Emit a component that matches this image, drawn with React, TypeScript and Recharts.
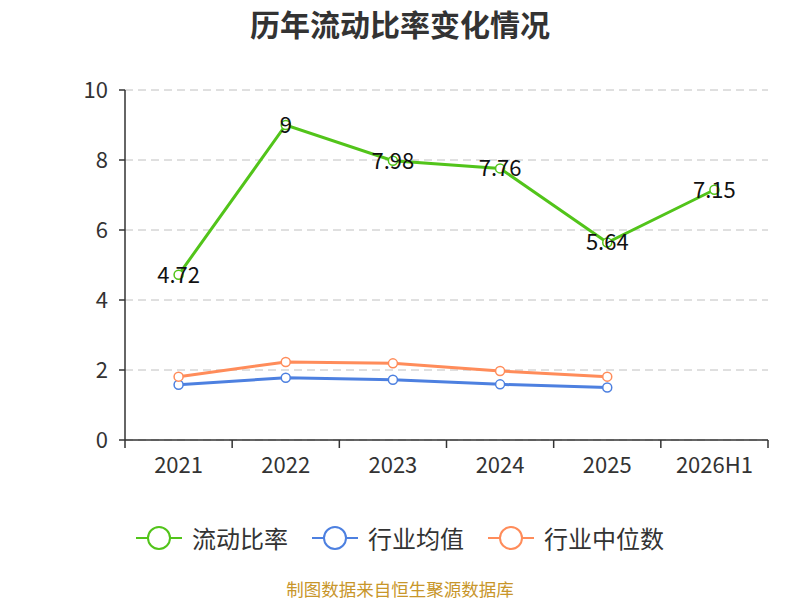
import { useEffect } from "react";
import { LineChart, Line, XAxis, YAxis, CartesianGrid, LabelList } from "recharts";

const years = ["2021", "2022", "2023", "2024", "2025", "2026H1"];
const currentRatio = [4.72, 9, 7.98, 7.76, 5.64, 7.15];
const industryAvg = [1.58, 1.78, 1.72, 1.59, 1.5, null];
const industryMedian = [1.81, 2.23, 2.19, 1.97, 1.81, null];
const yTicks = [0, 2, 4, 6, 8, 10];

const W = 800;
const H = 600;
const M = { top: 90, right: 32, left: 65, bottom: 130 };
const Y_AXIS_W = 60;
const BAND = (W - M.left - M.right - Y_AXIS_W) / years.length;

const data = years.map((year, i) => ({
  year,
  ratio: currentRatio[i],
  avg: industryAvg[i],
  median: industryMedian[i],
}));

const series = [
  { key: "ratio", name: "流动比率", color: "#52c41a" },
  { key: "avg", name: "行业均值", color: "#4d80e0" },
  { key: "median", name: "行业中位数", color: "#ff8c5a" },
];

const XTick = (props: any) => {
  const { x, y, payload, index } = props;
  const half = BAND / 2;
  return (
    <g>
      <line x1={x - half} y1={y - 8} x2={x - half} y2={y} stroke="#333" strokeWidth={1.5} />
      {index === years.length - 1 && (
        <line x1={x + half} y1={y - 8} x2={x + half} y2={y} stroke="#333" strokeWidth={1.5} />
      )}
      <text x={x} y={y + 25} textAnchor="middle" fontSize={22} fill="#333">
        {payload.value}
      </text>
    </g>
  );
};

export default function App() {
  useEffect(() => {
    document.body.style.margin = "0";
  }, []);

  return (
    <div style={{ position: "relative", width: W, height: H, fontFamily: "'Noto Sans CJK SC', 'Noto Sans', sans-serif", background: "#fff" }}>
      <div style={{ position: "absolute", top: 1, width: W, textAlign: "center", fontSize: 30, fontWeight: "bold", color: "#333" }}>
        历年流动比率变化情况
      </div>
      <LineChart width={W} height={H} data={data} margin={M}>
        <CartesianGrid vertical={false} strokeDasharray="8 5" stroke="#c0c0c0" />
        <XAxis
          dataKey="year"
          scale="band"
          tickLine={false}
          axisLine={{ stroke: "#333", strokeWidth: 1.5 }}
          tick={<XTick />}
          interval={0}
          height={30}
        />
        <YAxis
          domain={[0, 10]}
          ticks={yTicks}
          width={Y_AXIS_W}
          axisLine={{ stroke: "#333", strokeWidth: 1.5 }}
          tickLine={{ stroke: "#333", strokeWidth: 1.5 }}
          tickSize={6}
          tick={{ fontSize: 22, fill: "#333", dx: -9 }}
        />
        {series.map((s) => (
          <Line
            key={s.key}
            dataKey={s.key}
            name={s.name}
            stroke={s.color}
            strokeWidth={3}
            dot={{ r: 4.5, fill: "#fff", stroke: s.color, strokeWidth: 1.5 }}
            isAnimationActive={false}
          >
            {s.key === "ratio" && (
              <LabelList dataKey="ratio" position="center" fontSize={22} fill="#111" />
            )}
          </Line>
        ))}
      </LineChart>
      <div style={{ position: "absolute", top: 520, width: W, display: "flex", justifyContent: "center", gap: 24, fontSize: 24, color: "#333" }}>
        {series.map((s) => (
          <div key={s.key} style={{ display: "flex", alignItems: "center" }}>
            <svg width={46} height={30} style={{ marginRight: 10 }}>
              <line x1={0} y1={15} x2={46} y2={15} stroke={s.color} strokeWidth={2} />
              <circle cx={23} cy={15} r={11} fill="#fff" stroke={s.color} strokeWidth={2} />
            </svg>
            <span>{s.name}</span>
          </div>
        ))}
      </div>
      <div style={{ position: "absolute", top: 576, width: W, textAlign: "center", fontSize: 17.5, color: "#c8962a" }}>
        制图数据来自恒生聚源数据库
      </div>
    </div>
  );
}
